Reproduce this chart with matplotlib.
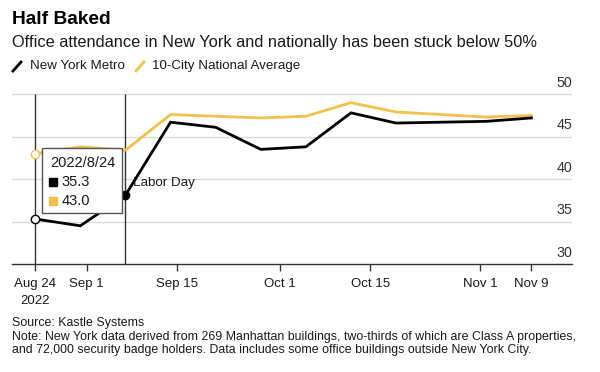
import numpy as np
import pandas as pd
import matplotlib
matplotlib.use("Agg")
import matplotlib.pyplot as plt
import matplotlib.dates as mdates
from matplotlib.lines import Line2D
from matplotlib.patches import Rectangle
import matplotlib.transforms as mtransforms

plt.rcParams['font.family'] = ['Liberation Sans', 'DejaVu Sans']

# Weekly readings (percent of pre-pandemic occupancy)
dates = pd.to_datetime(['2022-08-24', '2022-08-31', '2022-09-07', '2022-09-14',
                        '2022-09-21', '2022-09-28', '2022-10-05', '2022-10-12',
                        '2022-10-19', '2022-10-26', '2022-11-02', '2022-11-09'])
new_york = [35.3, 34.5, 38.1, 46.7, 46.1, 43.5, 43.8, 47.8, 46.6, 46.7, 46.8, 47.2]
national = [43.0, 43.8, 43.4, 47.6, 47.4, 47.2, 47.4, 49.0, 47.9, 47.6, 47.3, 47.5]

tick_dates = pd.to_datetime(['2022-08-24', '2022-09-01', '2022-09-15', '2022-10-01',
                             '2022-10-15', '2022-11-01', '2022-11-09'])
tick_labels = ['Aug 24\n2022', 'Sep 1', 'Sep 15', 'Oct 1', 'Oct 15', 'Nov 1', 'Nov 9']
y_ticks = [30, 35, 40, 45, 50]

ny_color = '#000000'
nat_color = '#f2c14e'
grid_color = '#dcdcdc'
text_color = '#1a1a1a'

fig = plt.figure(figsize=(6, 3.72), dpi=100)
W, H = 600, 372
ax = fig.add_axes([12 / W, 1 - 264 / H, (572 - 12) / W, (264 - 80) / H])

ax.set_xlim(dates[0] - pd.Timedelta(days=3.6), dates[0] + pd.Timedelta(days=83.3))
ax.set_ylim(30, 51.67)

# gridlines + right side labels sitting above the lines
for v in y_ticks[1:]:
    ax.axhline(v, color=grid_color, lw=1, zorder=0)
offset = mtransforms.offset_copy(ax.get_yaxis_transform(), fig=fig, x=0, y=3, units='points')
for v in y_ticks:
    ax.text(1.0, v, str(v), transform=offset, ha='right', va='bottom',
            fontsize=10.3, color='#333333')

# highlighted dates: start of series and Labor Day week
ax.vlines([dates[0], dates[2]], 30, 50, color='#333333', lw=1, zorder=2)

ax.plot(dates, national, color=nat_color, lw=2, zorder=3, solid_joinstyle='miter')
ax.plot(dates, new_york, color=ny_color, lw=2, zorder=4, solid_joinstyle='miter')

ax.plot(dates[0], new_york[0], 'o', ms=6, mfc='white', mec=ny_color, mew=1, zorder=6)
ax.plot(dates[0], national[0], 'o', ms=6, mfc='white', mec=nat_color, mew=1, zorder=6)
ax.plot(dates[2], new_york[2], 'o', ms=6, color=ny_color, zorder=6)
ax.text(dates[2] + pd.Timedelta(days=1.2), 39.5, 'Labor Day', fontsize=9.6,
        color=text_color, va='center', ha='left', zorder=6)

# tooltip box
x0 = mdates.date2num(dates[0]) + 1.1
x1 = mdates.date2num(dates[0]) + 13.5
ax.add_patch(Rectangle((x0, 36.0), x1 - x0, 7.7, facecolor='white', edgecolor='#555555',
                       lw=1, zorder=7))
ax.text(x0 + 1.2, 41.9, dates[0].strftime('%Y/%-m/%d'), fontsize=10.5, color=text_color,
        va='center', zorder=8)
ax.plot(x0 + 1.7, 39.6, 's', ms=6, color=ny_color, zorder=8)
ax.text(x0 + 3.0, 39.6, f'{new_york[0]:.1f}', fontsize=10.5, color=text_color,
        va='center', zorder=8)
ax.plot(x0 + 1.7, 37.4, 's', ms=6, color=nat_color, zorder=8)
ax.text(x0 + 3.0, 37.4, f'{national[0]:.1f}', fontsize=10.5, color=text_color,
        va='center', zorder=8)

ax.set_xticks(tick_dates)
ax.set_xticklabels(tick_labels, fontsize=9.5, color=text_color, linespacing=1.55)
ax.tick_params(axis='x', length=5, width=1, color='#333333', pad=5)
ax.set_yticks([])
for s in ['top', 'right', 'left']:
    ax.spines[s].set_visible(False)
ax.spines['bottom'].set_color('#333333')
ax.spines['bottom'].set_linewidth(1)
ax.patch.set_alpha(0)

# header
fig.text(12 / W, 1 - 19 / H, 'Half Baked', fontsize=13.8, fontweight='bold',
         color='#000000', va='center')
fig.text(12 / W, 1 - 42 / H, 'Office attendance in New York and nationally has been stuck below 50%',
         fontsize=11.75, color=text_color, va='center')

# legend
fig.add_artist(Line2D([13 / W, 21 / W], [1 - 71 / H, 1 - 62 / H], color=ny_color, lw=2))
fig.text(30 / W, 1 - 66 / H, 'New York Metro', fontsize=9.6, color=text_color, va='center')
fig.add_artist(Line2D([136 / W, 144 / W], [1 - 71 / H, 1 - 62 / H], color=nat_color, lw=2))
fig.text(152 / W, 1 - 66 / H, '10-City National Average', fontsize=9.6, color=text_color,
         va='center')

# footer
fig.text(12 / W, 1 - 323 / H, 'Source: Kastle Systems', fontsize=8.9, color=text_color, va='center')
fig.text(12 / W, 1 - 337 / H,
         'Note: New York data derived from 269 Manhattan buildings, two-thirds of which are Class A properties,',
         fontsize=8.9, color=text_color, va='center')
fig.text(12 / W, 1 - 350 / H,
         'and 72,000 security badge holders. Data includes some office buildings outside New York City.',
         fontsize=8.9, color=text_color, va='center')

fig.savefig('out.png', dpi=100)
